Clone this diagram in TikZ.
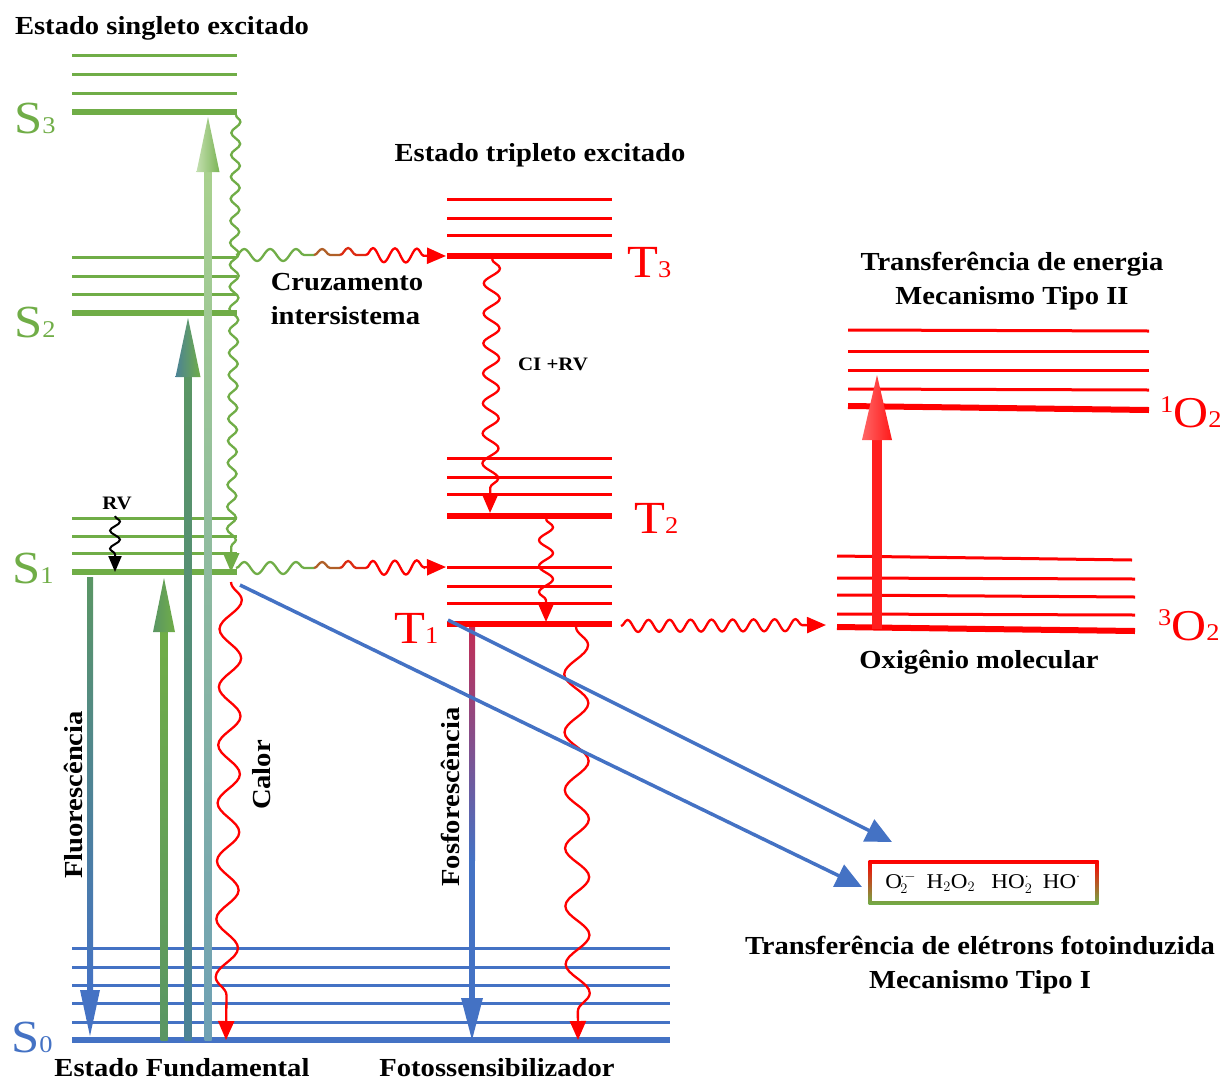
\documentclass[tikz,border=0pt]{standalone}
\usepackage{fontspec}
\setmainfont{Liberation Serif}[FakeStretch=1.1]
\usetikzlibrary{arrows.meta,decorations.pathmorphing}
\definecolor{sg}{RGB}{112,173,71}
\definecolor{tr}{RGB}{255,0,0}
\definecolor{sb}{RGB}{68,114,196}
\definecolor{lg}{RGB}{169,209,142}
\definecolor{tealA}{RGB}{90,150,100}
\definecolor{tealB}{RGB}{75,130,150}
\definecolor{tealC}{RGB}{110,160,180}
\definecolor{phos}{RGB}{195,45,85}
\begin{document}
\begin{tikzpicture}[x=1pt,y=-1pt,
  lvl/.style={line width=3pt},
  lvlk/.style={line width=6pt},
  lab/.style={font=\fontsize{26}{34}\selectfont\bfseries, align=center, inner sep=0pt},
  smlab/.style={font=\fontsize{19}{22}\selectfont\bfseries, inner sep=0pt},
  lvlname/.style={inner sep=0pt, anchor=base west},
  wv/.style n args={3}{decorate, decoration={snake, amplitude=#1pt, segment length=#2pt, post length=#3pt}},
  tipS/.style={-{Triangle[length=19pt,width=16pt]}},
  tipB/.style={-{Triangle[length=26pt,width=24pt]}}]
\useasboundingbox (0,0) rectangle (1226,1082);

% ---------- singlet levels ----------
\foreach \y in {55,74,93} \draw[sg,lvl] (72,\y) -- (237,\y);
\draw[sg,lvlk] (72,112) -- (237,112);
\foreach \y in {257,276,294} \draw[sg,lvl] (72,\y) -- (237,\y);
\draw[sg,lvlk] (72,313) -- (237,313);
\foreach \y in {518,536,553} \draw[sg,lvl] (72,\y) -- (237,\y);
\draw[sg,lvlk] (72,572) -- (237,572);
% ---------- ground state ----------
\foreach \y in {948,967,985,1003,1022} \draw[sb,lvl] (72,\y) -- (670,\y);
\draw[sb,lvlk] (72,1040) -- (670,1040);
% ---------- triplet levels ----------
\foreach \y in {199,218,235} \draw[tr,lvl] (447,\y) -- (612,\y);
\draw[tr,lvlk] (447,256) -- (612,256);
\foreach \y in {458,477,494} \draw[tr,lvl] (447,\y) -- (612,\y);
\draw[tr,lvlk] (447,516) -- (612,516);
\foreach \y in {567,586,603} \draw[tr,lvl] (447,\y) -- (612,\y);
\draw[tr,lvlk] (447,624) -- (612,624);
% ---------- oxygen levels ----------
\draw[tr,lvl] (848,330) -- (1149,331);
\draw[tr,lvl] (848,351) -- (1149,351);
\draw[tr,lvl] (848,370) -- (1149,370);
\draw[tr,lvl] (848,389) -- (1149,390);
\draw[tr,lvlk] (848,406) -- (1149,410);
\draw[tr,lvl] (837,556) -- (1132,560);
\draw[tr,lvl] (837,578) -- (1135,579);
\draw[tr,lvl] (837,595) -- (1135,597);
\draw[tr,lvl] (837,614) -- (1135,615);
\draw[tr,lvlk] (837,627) -- (1135,631);

% ---------- level names ----------
\node[lvlname,text=sg] (nS3) at (14,133) {\fontsize{46}{46}\selectfont S\fontsize{24}{24}\selectfont 3};
\node[lvlname,text=sg] (nS2) at (14,337) {\fontsize{46}{46}\selectfont S\fontsize{24}{24}\selectfont 2};
\node[lvlname,text=sg] (nS1) at (12,583) {\fontsize{46}{46}\selectfont S\fontsize{24}{24}\selectfont 1};
\node[lvlname,text=sb] (nS0) at (11,1052) {\fontsize{46}{46}\selectfont S\fontsize{24}{24}\selectfont 0};
\node[lvlname,text=tr] (nT3) at (627,277) {\fontsize{46}{46}\selectfont T\fontsize{24}{24}\selectfont 3};
\node[lvlname,text=tr] (nT2) at (634,533) {\fontsize{46}{46}\selectfont T\fontsize{24}{24}\selectfont 2};
\node[lvlname,text=tr] (nT1) at (394,643) {\fontsize{46}{46}\selectfont T\fontsize{24}{24}\selectfont 1};
\node[lvlname,text=tr] (n1O2) at (1160,427) {\fontsize{24}{24}\selectfont\raisebox{15pt}{1}\fontsize{44}{44}\selectfont O\fontsize{24}{24}\selectfont 2};
\node[lvlname,text=tr] (n3O2) at (1158,640) {\fontsize{24}{24}\selectfont\raisebox{15pt}{3}\fontsize{44}{44}\selectfont O\fontsize{24}{24}\selectfont 2};

% ---------- labels ----------
\node[lab] (tS) at (162,28) {Estado singleto excitado};
\node[lab] (tT) at (540,155) {Estado tripleto excitado};
\node[lab, align=left] (isc) at (347,299) {Cruzamento\\intersistema};
\node[smlab] (cirv) at (553,364) {CI +RV};
\node[smlab] (rv) at (117,503) {RV};
\node[lab] (tII) at (1012,281) {Transferência de energia\\Mecanismo Tipo II};
\node[lab] (oxm) at (979,662) {Oxigênio molecular};
\node[lab] (tI) at (980,965) {Transferência de elétrons fotoinduzida\\Mecanismo Tipo I};
\node[lab] (ef) at (182,1068) {Estado Fundamental};
\node[lab] (fs) at (497,1068) {Fotossensibilizador};
\node[lab, rotate=90] (fluo) at (73,795) {Fluorescência};
\node[lab, rotate=90] (calor) at (262,775) {Calor};
\node[lab, rotate=90] (fosf) at (450,797) {Fosforescência};

% ---------- absorption arrows ----------
\shade[top color=sg, bottom color=tealA] (160.5,1040) rectangle (167.5,630);
\shade[left color=tealA, right color=sg] (153,632) -- (175,632) -- (164,578) -- cycle;
\shade[top color=tealA, bottom color=tealB] (184.5,1040) rectangle (191.5,375);
\shade[left color=tealB, right color=sg] (175.5,377) -- (200.5,377) -- (188,318) -- cycle;
\shade[top color=lg, bottom color=tealC] (204.5,1040) rectangle (211.5,170);
\shade[left color=lg!70!white, right color=sg!80!lg] (196.5,172) -- (219.5,172) -- (208,117) -- cycle;
% fluorescence
\shade[top color=tealA, bottom color=sb] (87,577) rectangle (93,992);
\fill[sb] (80,990) -- (100,990) -- (90,1036) -- cycle;
% phosphorescence
\shade[top color=phos, bottom color=sb] (469,627) rectangle (475,860);
\fill[sb] (469,859) rectangle (475,1000);
\fill[sb] (461,998) -- (483,998) -- (472,1040) -- cycle;
% oxygen excitation
\fill[tr!88!white] (872,629) rectangle (882,438);
\shade[left color=tr!60!white, right color=tr!90!white] (862,440) -- (892,440) -- (877,375) -- cycle;

% ---------- coordinates for wavy connectors ----------
\coordinate (s3r) at (236,115);
\coordinate (s1in) at (231,572);
\coordinate (isc2a) at (236,255);
\coordinate (isc2b) at (314,255);
\coordinate (isc2c) at (340,255);
\coordinate (isc2d) at (366,255);
\coordinate (t3in) at (446,256);
\coordinate (isc1a) at (236,568);
\coordinate (isc1b) at (314,568);
\coordinate (isc1c) at (340,568);
\coordinate (isc1d) at (366,568);
\coordinate (t1in) at (446,567);
\coordinate (t3out) at (492,259);
\coordinate (t2in) at (490,513);
\coordinate (t2out) at (546,519);
\coordinate (t1top) at (546,622);
\coordinate (t1r) at (621,626);
\coordinate (o2in) at (826,625);
\coordinate (t1dn) at (576,627);
\coordinate (s0r) at (578,1040);
\coordinate (s1dn) at (231,582);
\coordinate (s0l) at (226,1040);
\coordinate (rva) at (115,516);
\coordinate (rvb) at (115,572);

% S3 -> S1 internal conversion
\draw[sg, line width=2.3pt, wv={4.5}{22}{18}, tipS] (s3r) -- (s1in);
% intersystem crossing S2 -> T3
\draw[sg, line width=2.3pt, wv={6}{26}{0}] (isc2a) -- (isc2b);
\draw[sg!55!tr, line width=2.3pt, wv={6}{26}{0}] (isc2b) -- (isc2c);
\draw[sg!25!tr, line width=2.3pt, wv={7}{26}{0}] (isc2c) -- (isc2d);
\draw[tr, line width=2.3pt, wv={7}{22}{18}, tipS] (isc2d) -- (t3in);
% intersystem crossing S1 -> T1
\draw[sg, line width=2.3pt, wv={6}{26}{0}] (isc1a) -- (isc1b);
\draw[sg!55!tr, line width=2.3pt, wv={6}{26}{0}] (isc1b) -- (isc1c);
\draw[sg!25!tr, line width=2.3pt, wv={7}{26}{0}] (isc1c) -- (isc1d);
\draw[tr, line width=2.3pt, wv={7}{22}{18}, tipS] (isc1d) -- (t1in);
% T3 -> T2, T2 -> T1
\draw[tr, line width=2.3pt, wv={8}{30}{20}, tipS] (t3out) -- (t2in);
\draw[tr, line width=2.3pt, wv={7}{26}{20}, tipS] (t2out) -- (t1top);
% T1 -> 3O2
\draw[tr, line width=2.3pt, wv={6}{21}{20}, tipS] (t1r) -- (o2in);
% T1 -> S0 and S1 -> S0 (heat)
\draw[tr, line width=2.3pt, wv={12}{58}{20}, tipS] (t1dn) -- (s0r);
\draw[tr, line width=2.3pt, wv={11}{58}{20}, tipS] (s1dn) -- (s0l);
% RV
\draw[black, line width=2pt, wv={5}{18}{16}, -{Triangle[length=16pt,width=13pt]}] (rva) -- (rvb);

% ---------- type I electron transfer ----------
\shade[top color=tr, bottom color=sg] (868.5,860.5) rectangle (1098.5,904.5);
\fill[white] (872,864) rectangle (1095,901);
\node[inner sep=0pt, font=\fontsize{21}{24}\selectfont] (box) at (983,883)
  {$\mathrm{O}_2^{\cdot -}$\enspace H$_2$O$_2$\enspace\ HO$_2^{\cdot}$\enspace HO$^{\cdot}$};
\coordinate (s1b) at (240,585);
\coordinate (boxl) at (862,887);
\coordinate (t1l) at (448,620);
\coordinate (boxu) at (892,842);
\draw[sb, line width=3.5pt, tipB] (s1b) -- (boxl);
\draw[sb, line width=3.5pt, tipB] (t1l) -- (boxu);
\end{tikzpicture}
\end{document}
